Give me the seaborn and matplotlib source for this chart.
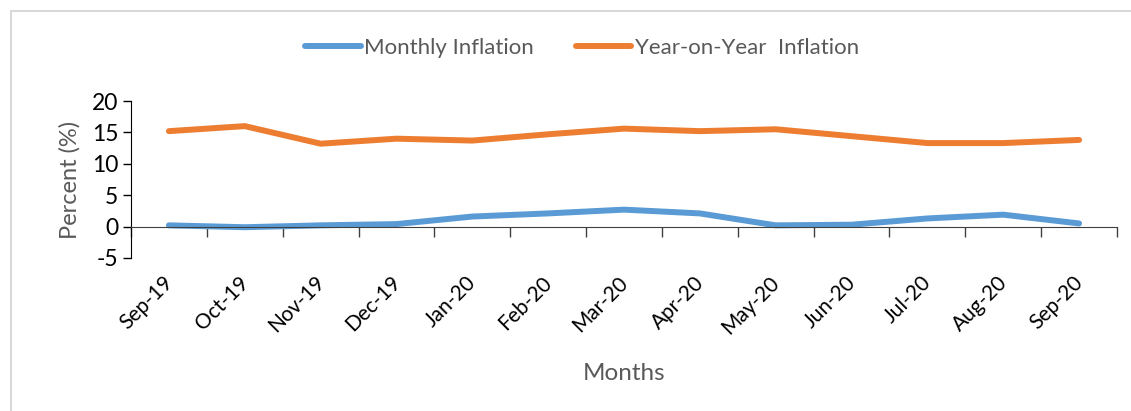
"""
Monthly vs Year-on-Year inflation, Sep-19 to Sep-20
"""
import numpy as np
import pandas as pd
import matplotlib
matplotlib.use("Agg")
import matplotlib.pyplot as plt
import matplotlib.patches as patches
import matplotlib.transforms as mtransforms
import seaborn as sns

sns.set_style("white")
plt.rcParams["font.family"] = ["Lato", "DejaVu Sans"]
plt.rcParams["axes.unicode_minus"] = False

# ---------------------------------------------------------
# DATA
# ---------------------------------------------------------
months = ["Sep-19", "Oct-19", "Nov-19", "Dec-19", "Jan-20", "Feb-20", "Mar-20",
          "Apr-20", "May-20", "Jun-20", "Jul-20", "Aug-20", "Sep-20"]
monthly = [0.2, -0.1, 0.2, 0.4, 1.6, 2.1, 2.7, 2.1, 0.2, 0.3, 1.3, 1.9, 0.5]
yoy = [15.2, 16.0, 13.2, 14.0, 13.7, 14.7, 15.6, 15.2, 15.5, 14.4, 13.3, 13.3, 13.8]
series_names = ["Monthly Inflation", "Year-on-Year  Inflation"]
colors = ["#5B9BD5", "#ED7D31"]
yticks = [-5, 0, 5, 10, 15, 20]

pos = np.arange(len(months))
df = pd.DataFrame({
    "pos": np.concatenate([pos, pos]),
    "value": monthly + yoy,
    "series": [series_names[0]] * len(months) + [series_names[1]] * len(months),
})

# ---------------------------------------------------------
# PLOT
# ---------------------------------------------------------
fig = plt.figure(figsize=(11.31, 4.11), dpi=100)
ax = fig.add_axes([131 / 1131, 1 - 258 / 411, (1117 - 131) / 1131, (258 - 101) / 411])

sns.lineplot(data=df, x="pos", y="value", hue="series", palette=colors,
             linewidth=4.3, ax=ax, legend=False, solid_capstyle="round")

ax.set_xlim(-0.5, len(months) - 0.5)
ax.set_ylim(-5, 20)
ax.set_yticks(yticks)
ax.tick_params(axis="y", direction="out", length=6, width=1, color="black",
               labelsize=16.5, labelcolor="black", pad=3, left=True)

# category axis drawn at y=0 with ticks between categories
ax.spines["bottom"].set_position(("data", 0))
ax.spines["bottom"].set_color("#404040")
ax.spines["left"].set_color("black")
ax.spines["top"].set_visible(False)
ax.spines["right"].set_visible(False)
ax.set_xticks(pos)
ax.set_xticklabels(months, rotation=45, ha="right", va="top")
ax.set_xticks(np.arange(len(months) + 1) - 0.5, minor=True)
ax.tick_params(axis="x", which="major", length=0, pad=33, labelsize=15, labelcolor="black")
ax.tick_params(axis="x", which="minor", direction="out", length=7, width=1,
               color="#404040", bottom=True)
# nudge rotated labels right so their end sits over the category centre
shift = mtransforms.ScaledTranslation(8 / 100, 0, fig.dpi_scale_trans)
for lab in ax.get_xticklabels():
    lab.set_transform(lab.get_transform() + shift)

ax.set_xlabel("")
ax.set_ylabel("Percent (%)", fontsize=17, color="#595959", labelpad=8)
fig.text(624 / 1131, 1 - 373 / 411, "Months", fontsize=17.5, color="#595959",
         ha="center", va="center")

handles = [plt.Line2D([], [], color=c, linewidth=4.3, solid_capstyle="round") for c in colors]
fig.legend(handles, series_names, loc="center", bbox_to_anchor=(582 / 1131, 1 - 48 / 411),
           ncol=2, frameon=False, fontsize=16, labelcolor="#595959",
           handlelength=2.5, handletextpad=0.15, columnspacing=1.9)

# light chart-area border (right and bottom edges fall outside the image)
fig.patches.append(patches.Rectangle((11 / 1131, -0.1), 1.1, 1.1 - 11 / 411,
                                     transform=fig.transFigure, fill=False,
                                     edgecolor="#D9D9D9", linewidth=1.5))

fig.savefig("out.png", dpi=100)
plt.close(fig)
